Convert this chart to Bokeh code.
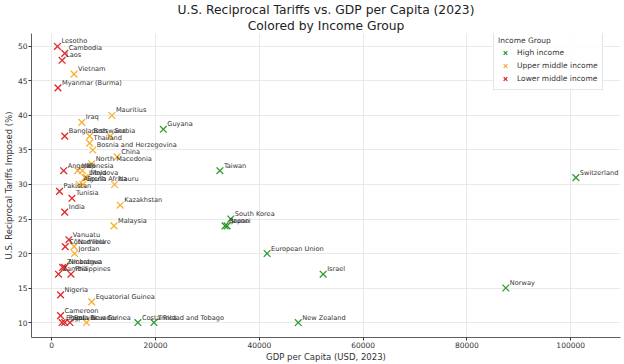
from bokeh.plotting import figure
from bokeh.models import ColumnDataSource, Title, Legend, LegendItem, FixedTicker, BasicTickFormatter, Range1d, LabelSet
from bokeh.core.properties import value
from bokeh.embed import file_html
from bokeh.resources import INLINE

# ---- data ----
high_names = ["Guyana", "Taiwan", "Switzerland", "South Korea", "Japan", "Brunei",
              "European Union", "Israel", "Norway", "Costa Rica", "Trinidad and Tobago", "New Zealand"]
high_gdp = [21500, 32400, 101000, 34500, 33800, 33400, 41500, 52300, 87500, 16600, 19700, 47500]
high_tariff = [38, 32, 31, 25, 24, 24, 20, 17, 15, 10, 10, 10]

upper_names = ["Vietnam", "Mauritius", "Iraq", "Botswana", "Serbia", "Thailand",
               "Bosnia and Herzegovina", "China", "North Macedonia", "Indonesia", "Fiji",
               "Moldova", "Libya", "South Africa", "Algeria", "Nauru", "Kazakhstan",
               "Malaysia", "Namibia", "Jordan", "Equatorial Guinea", "Ecuador"]
upper_gdp = [4300, 11600, 5800, 7300, 11300, 7300, 7900, 12600, 7700, 5000, 5900,
             6700, 6400, 6000, 5300, 12100, 13200, 12000, 4300, 4400, 7700, 6700]
upper_tariff = [46, 40, 39, 37, 37, 36, 35, 34, 33, 32, 32, 31, 31, 30, 30, 30, 27,
                24, 21, 20, 13, 10]

lower_names = ["Lesotho", "Cambodia", "Laos", "Myanmar (Burma)", "Bangladesh", "Angola",
               "Pakistan", "Tunisia", "India", "Vanuatu", "Côte d'Ivoire", "Nicaragua",
               "Zimbabwe", "Zambia", "Philippines", "Nigeria", "Cameroon", "Egypt",
               "Papua New Guinea", "Bolivia"]
lower_gdp = [1100, 2500, 2000, 1200, 2500, 2300, 1500, 3900, 2500, 3300, 2600, 2500,
             2100, 1300, 3700, 1700, 1700, 2000, 2500, 3500]
lower_tariff = [50, 49, 48, 44, 37, 32, 29, 28, 26, 22, 21, 18, 18, 17, 17, 14, 11, 10, 10, 10]

group_labels = ["High income", "Upper middle income", "Lower middle income"]
group_colors = ["#2e9a2e", "#f5b035", "#e0282a"]

x_ticks = [0, 20000, 40000, 60000, 80000, 100000]
y_ticks = [10, 15, 20, 25, 30, 35, 40, 45, 50]

FONT = "DejaVu Sans"

p = figure(width=624, height=364, output_backend="svg", toolbar_location=None,
           x_range=Range1d(-3900, 109600), y_range=Range1d(7.83, 51.88),
           min_border_left=0, min_border_right=4, min_border_top=0, min_border_bottom=0)

p.title.text = "U.S. Reciprocal Tariffs vs. GDP per Capita (2023)"
p.title.align = "center"
p.title.text_font = FONT
p.title.text_font_size = "12.3px"
p.title.text_font_style = "normal"
p.title.text_color = "#222222"
p.title.standoff = 0
p.add_layout(Title(text="Colored by Income Group", align="center",
                   text_font=FONT, text_font_size="12.3px", text_font_style="normal",
                   text_color="#222222", standoff=1), "above")

p.outline_line_color = None
p.background_fill_color = "white"

for ax in (p.xaxis, p.yaxis):
    ax.axis_line_color = "#333333"
    ax.axis_line_width = 0.8
    ax.major_tick_line_color = "#333333"
    ax.major_tick_out = 3
    ax.major_tick_in = 0
    ax.minor_tick_line_color = None
    ax.major_label_text_font = FONT
    ax.major_label_text_font_size = "7.5px"
    ax.major_label_text_color = "#333333"
    ax.major_label_standoff = 1
    ax.axis_label_text_font = FONT
    ax.axis_label_text_font_size = "8.5px"
    ax.axis_label_text_font_style = "normal"
    ax.axis_label_text_color = "#333333"
    ax.axis_label_standoff = 1

p.xaxis.ticker = FixedTicker(ticks=x_ticks)
p.yaxis.ticker = FixedTicker(ticks=y_ticks)
p.xaxis.formatter = BasicTickFormatter(use_scientific=False)
p.xaxis.axis_label = "GDP per Capita (USD, 2023)"
p.yaxis.axis_label = "U.S. Reciprocal Tariffs Imposed (%)"

p.xgrid.grid_line_color = "#e3e3e3"
p.ygrid.grid_line_color = "#e3e3e3"
p.xgrid.grid_line_width = 0.8
p.ygrid.grid_line_width = 0.8

groups = [(high_names, high_gdp, high_tariff), (upper_names, upper_gdp, upper_tariff),
          (lower_names, lower_gdp, lower_tariff)]

items = []
for (names, gdp, tariff), lab, col in zip(groups, group_labels, group_colors):
    src = ColumnDataSource(dict(x=gdp, y=tariff, name=names))
    r = p.scatter("x", "y", source=src, marker="x", size=9.5, line_color=col, line_width=1.3)
    items.append(LegendItem(label=lab, renderers=[r]))
    labels = LabelSet(x="x", y="y", text="name", source=src, text_font=value(FONT),
                      text_font_size="6.6px", text_color="#333333", x_offset=4, y_offset=1,
                      text_baseline="bottom", text_align="left")
    p.add_layout(labels)

legend = Legend(items=items, location=(462, 247), title="Income Group",
                title_text_font=FONT, title_text_font_size="7.5px", title_text_font_style="normal",
                title_text_color="#333333", title_standoff=1,
                label_text_font=FONT, label_text_font_size="7.5px", label_text_color="#333333",
                label_height=11, glyph_height=13, glyph_width=14, spacing=-2, padding=4,
                margin=0, border_line_color="#cccccc", background_fill_alpha=0.85,
                label_standoff=5)
p.add_layout(legend)

open("out.html", "w").write(file_html(p, INLINE))
